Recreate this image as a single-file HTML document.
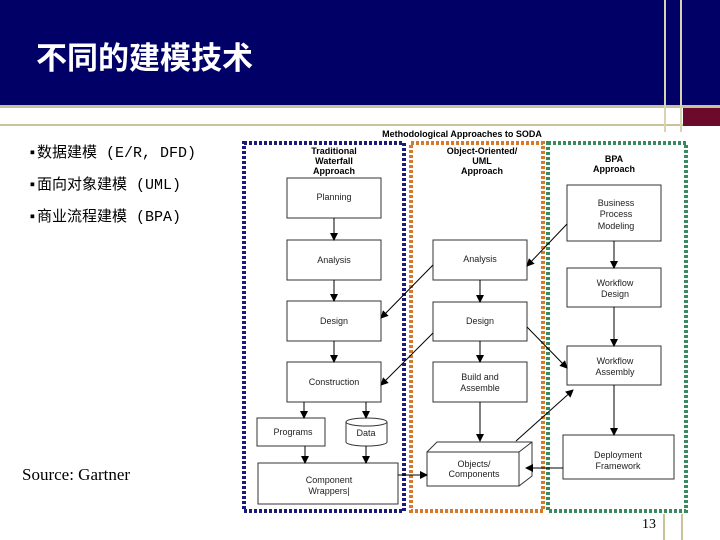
<!DOCTYPE html>
<html><head><meta charset="utf-8"><style>
html,body{margin:0;padding:0;width:720px;height:540px;overflow:hidden;background:#fff;position:relative}
.t{position:absolute;font-family:"Liberation Sans","Noto Sans CJK SC",sans-serif}
</style></head><body>
<div style="position:absolute;left:0;top:0;width:720px;height:105px;background:#000066"></div>
<div style="position:absolute;left:0;top:105px;width:720px;height:3px;background:#c8c49a"></div>
<div style="position:absolute;left:0;top:124px;width:683px;height:2px;background:#c8c49a"></div>
<div style="position:absolute;left:683px;top:108px;width:37px;height:18px;background:#6b0a2a"></div>
<div style="position:absolute;left:664px;top:0;width:2px;height:132px;background:#d8d4b0"></div>
<div style="position:absolute;left:680px;top:0;width:2px;height:132px;background:#d8d4b0"></div>
<div style="position:absolute;left:663px;top:514px;width:2px;height:26px;background:#c8c49a"></div>
<div style="position:absolute;left:681px;top:514px;width:2px;height:26px;background:#c8c49a"></div>
<div class="t" style="left:36px;top:33px;font-size:31px;font-weight:bold;color:#fff">不同的建模技术</div>
<div class="t" style="left:28px;top:138px;font-size:15px;font-family:'Liberation Mono','Noto Sans CJK SC',monospace;line-height:32px">▪数据建模 (E/R, DFD)<br>▪面向对象建模 (UML)<br>▪商业流程建模 (BPA)</div>
<div class="t" style="left:22px;top:465px;font-size:17px;font-family:'Liberation Serif',serif">Source: Gartner</div>
<div class="t" style="left:642px;top:517px;font-size:14px;font-family:'Liberation Serif',serif">13</div>
<svg width="720" height="540" style="position:absolute;left:0;top:0" font-family="Liberation Sans, sans-serif" font-size="9">
<defs><marker id="a" markerWidth="8" markerHeight="8" refX="7" refY="4" orient="auto" markerUnits="userSpaceOnUse"><path d="M0,0L8,4L0,8z" fill="#000"/></marker></defs>
<g fill="none" stroke-width="4" stroke-dasharray="3,2">
<rect x="244" y="143" width="160" height="368" stroke="#1a1a7a"/>
<rect x="411" y="143" width="132" height="368" stroke="#d67a2a"/>
<rect x="548" y="143" width="138" height="368" stroke="#3a8a60"/>
</g>
<text x="462" y="137" text-anchor="middle" font-weight="bold" font-size="9">Methodological Approaches to SODA</text>
<g font-weight="bold" text-anchor="middle">
<text x="334" y="154">Traditional</text><text x="334" y="164">Waterfall</text><text x="334" y="174">Approach</text>
<text x="482" y="154">Object-Oriented/</text><text x="482" y="164">UML</text><text x="482" y="174">Approach</text>
<text x="614" y="162">BPA</text><text x="614" y="172">Approach</text>
</g>
<g fill="#fff" stroke="#333" stroke-width="1">
<rect x="287" y="178" width="94" height="40"/><rect x="287" y="240" width="94" height="40"/>
<rect x="287" y="301" width="94" height="40"/><rect x="287" y="362" width="94" height="40"/>
<rect x="257" y="418" width="68" height="28"/><rect x="258" y="463" width="140" height="41"/>
<rect x="433" y="240" width="94" height="40"/><rect x="433" y="302" width="94" height="39"/>
<rect x="433" y="362" width="94" height="40"/>
<rect x="567" y="185" width="94" height="56"/><rect x="567" y="268" width="94" height="39"/>
<rect x="567" y="346" width="94" height="39"/><rect x="563" y="435" width="111" height="44"/>
<path d="M346,422 v20 a20.5,4 0 0 0 41,0 v-20 a20.5,4 0 0 0 -41,0 a20.5,4 0 0 0 41,0"/>
<path d="M427,452 l10,-10 h95 v34 l-13,10 h-92z M427,452 h92 l13,-10 M519,452 v34"/>
</g>
<g fill="#222" text-anchor="middle">
<text x="334" y="200">Planning</text><text x="334" y="263">Analysis</text><text x="334" y="324">Design</text>
<text x="334" y="385">Construction</text><text x="293" y="435">Programs</text><text x="366" y="436">Data</text>
<text x="329" y="483">Component</text><text x="329" y="494">Wrappers|</text>
<text x="480" y="262">Analysis</text><text x="480" y="324">Design</text>
<text x="480" y="380">Build and</text><text x="480" y="391">Assemble</text>
<text x="474" y="467">Objects/</text><text x="474" y="477">Components</text>
<text x="616" y="206">Business</text><text x="616" y="217">Process</text><text x="616" y="229">Modeling</text>
<text x="615" y="286">Workflow</text><text x="615" y="297">Design</text>
<text x="615" y="364">Workflow</text><text x="615" y="375">Assembly</text>
<text x="618" y="458">Deployment</text><text x="618" y="469">Framework</text>
</g>
<g stroke="#000" stroke-width="1" marker-end="url(#a)">
<line x1="334" y1="218" x2="334" y2="240"/><line x1="334" y1="280" x2="334" y2="301"/>
<line x1="334" y1="341" x2="334" y2="362"/><line x1="304" y1="402" x2="304" y2="418"/>
<line x1="366" y1="402" x2="366" y2="418"/><line x1="305" y1="446" x2="305" y2="463"/>
<line x1="366" y1="446" x2="366" y2="463"/>
<line x1="480" y1="280" x2="480" y2="302"/><line x1="480" y1="341" x2="480" y2="362"/>
<line x1="480" y1="402" x2="480" y2="441"/>
<line x1="614" y1="241" x2="614" y2="268"/><line x1="614" y1="307" x2="614" y2="346"/>
<line x1="614" y1="385" x2="614" y2="435"/>
<line x1="567" y1="224" x2="527" y2="266"/><line x1="433" y1="265" x2="381" y2="318"/>
<line x1="433" y1="333" x2="381" y2="385"/><line x1="527" y1="327" x2="567" y2="368"/>
<line x1="516" y1="441" x2="573" y2="390"/><line x1="563" y1="468" x2="526" y2="468"/>
<line x1="398" y1="475" x2="427" y2="475"/>
</g>
</svg>
</body></html>
